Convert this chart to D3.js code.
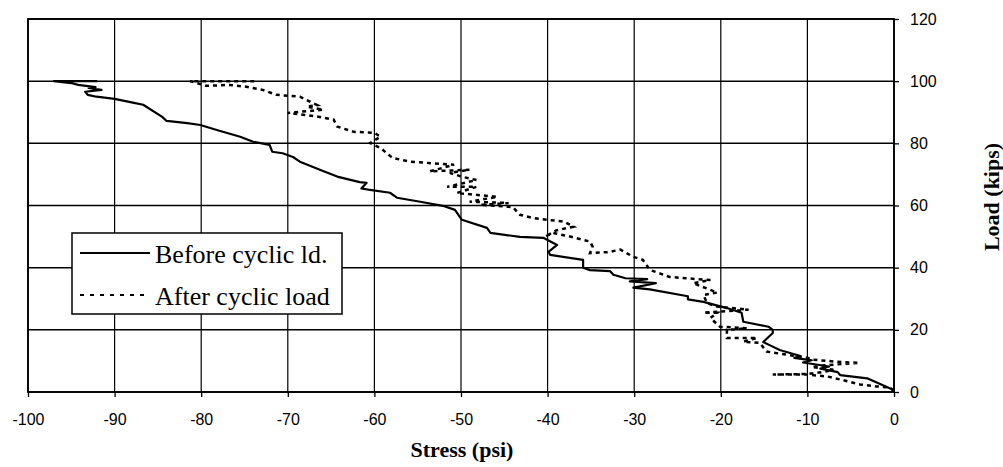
<!DOCTYPE html>
<html>
<head>
<meta charset="utf-8">
<script src="https://cdn.jsdelivr.net/npm/d3@7"></script>
<style>
  body { margin: 0; background: #fff; }
  svg { display: block; }
  .tick text { font-family: "Liberation Sans", Arial, sans-serif; font-size: 16px; fill: #000; }
  .title { font-family: "Liberation Serif", "Times New Roman", serif; font-weight: bold; font-size: 22px; }
  .legend text { font-family: "Liberation Serif", "Times New Roman", serif; font-size: 26px; }
</style>
</head>
<body>
<svg id="chart" width="1003" height="467"></svg>
<script>
// x = stress (psi), y = load (kips)
const xTicks = [-100, -90, -80, -70, -60, -50, -40, -30, -20, -10, 0];
const yTicks = [0, 20, 40, 60, 80, 100, 120];

const seriesNames = ["Before cyclic ld.", "After cyclic load"];

// before cyclic loading (solid)
const beforeStress = [0, -0.3, -3.1, -6.2, -6.5, -8.5, -7.5, -10.5, -9.5, -11.5, -10.8, -13.2, -14.3, -15.1, -14, -14, -14.5,
  -17.4, -17.6, -19.3, -22, -23.8, -23.8, -28.2, -30.1, -27.5, -30.5, -28.5, -31, -32.4, -32.8, -35.1, -35.9, -35.9,
  -39.7, -39.9, -38.9, -40.5, -43.2, -46.6, -47, -49.9, -50.7, -52.1, -54.7, -57.4, -58.2, -60.5, -61.5, -60.9, -61.7,
  -64.3, -66.3, -68.6, -69.4, -70.6, -71.8, -72.1, -74, -75.5, -78.2, -80.1, -81.6, -84, -84.5, -86.7, -87.9, -90,
  -92.1, -93.1, -93.4, -91.5, -93, -92.2, -94.2, -95, -97, -92];
const beforeLoad = [0, 1, 4.4, 5.4, 6.4, 7.5, 8.2, 9.5, 10.2, 11, 11.6, 13.5, 15, 16.1, 19, 20, 21,
  22.6, 25.5, 27, 29, 29.8, 30.8, 33, 33.6, 35, 35.6, 36.3, 36.6, 37.7, 38.9, 39.2, 40, 42.5,
  44.1, 45.1, 47.3, 49.6, 49.9, 51.2, 52.8, 55.4, 58.6, 59.9, 61.2, 62.5, 64.1, 65, 65.5, 67.3, 67.5,
  69.3, 71.5, 74.1, 75.6, 76.8, 77.3, 79.5, 80.5, 82.1, 84.3, 85.9, 86.5, 87.2, 88.5, 92.4, 93.1, 94.3,
  95, 95.6, 96.6, 97.2, 97.8, 98.1, 98.8, 99.4, 100, 100];

// after cyclic loading (dashed)
const afterStress = [0, -0.5, -2, -3.9, -5, -6.2, -7.7, -10, -14, -10, -8, -7, -9.5, -8, -4, -6, -9.4, -10, -12.4,
  -14.7, -15.5, -17.4, -15.8, -19.3, -19.3, -17, -20.1, -21.2, -20.4, -22, -16.8, -20.5, -21.6, -22, -20.4, -23.2,
  -21.2, -25.9, -28.2, -29, -30.1, -31.6, -33, -35.1, -34.8, -35.1, -37.4, -39.4, -40.3, -39, -37, -38.1, -40,
  -41.7, -43.2, -44, -47.8, -44.5, -49, -45.8, -50.5, -48.2, -51.6, -48.2, -49.8, -51.3, -49, -53.6, -50.8,
  -55.9, -57.9, -59.3, -60.5, -59.3, -60, -62.4, -64.3, -64.7, -66.3, -70, -65.9, -67.8, -66.6, -68.6, -71.3,
  -72.9, -74.8, -76.7, -79.4, -81, -81.3, -73.6];
const afterLoad = [0.5, 1.4, 1.8, 2.4, 3.2, 4, 5, 5.6, 5.6, 5.8, 6.5, 7.2, 8, 8.6, 9.4, 9.6, 10.4, 11, 12,
  13, 15.8, 16.2, 17.4, 17.4, 20, 20.5, 21, 23.8, 25.5, 25.5, 26.5, 27.5, 28.6, 31.2, 32, 35,
  36, 37, 39.3, 42.5, 43.5, 45.8, 45, 44.7, 46.7, 48.4, 50, 51.2, 50, 52, 53.2, 54.8, 55.4,
  56, 57, 59.5, 60.2, 60.8, 61.2, 62.8, 64, 66, 66, 68.2, 69.2, 70.5, 71.5, 71, 73.1,
  74.1, 75.3, 78.5, 80.1, 82.1, 83.4, 83.7, 85.4, 87.6, 88.5, 89.8, 90.8, 91.8, 92.3, 95, 95.6,
  97.2, 98.2, 98.8, 98.5, 99.8, 100, 100];

const margin = { left: 28, top: 19, right: 109, bottom: 75 };
const width = 1003 - margin.left - margin.right,
      height = 467 - margin.top - margin.bottom;

const svg = d3.select("#chart");
const g = svg.append("g")
    .attr("transform", "translate(" + margin.left + "," + margin.top + ")");

const x = d3.scaleLinear().domain([-100, 0]).range([0, width]);
const y = d3.scaleLinear().domain([0, 120]).range([height, 0]);

// grid
g.append("g").selectAll("line")
    .data(xTicks)
    .enter().append("line")
    .attr("x1", d => x(d)).attr("x2", d => x(d))
    .attr("y1", 0).attr("y2", height)
    .attr("stroke", "#000").attr("stroke-width", 1.2);

g.append("g").selectAll("line")
    .data(yTicks)
    .enter().append("line")
    .attr("y1", d => y(d)).attr("y2", d => y(d))
    .attr("x1", 0).attr("x2", width)
    .attr("stroke", "#000").attr("stroke-width", 1.5);

// frame
g.append("rect")
    .attr("width", width).attr("height", height)
    .attr("fill", "none").attr("stroke", "#000").attr("stroke-width", 1.8);

// axes (plain hyphen minus, like the original)
const fmt = d => String(d);
const xAxis = g.append("g")
    .attr("transform", "translate(0," + height + ")")
    .call(d3.axisBottom(x).tickValues(xTicks).tickFormat(fmt).tickSize(5).tickPadding(17));
const yAxis = g.append("g")
    .attr("transform", "translate(" + width + ",0)")
    .call(d3.axisRight(y).tickValues(yTicks).tickFormat(fmt).tickSize(5).tickPadding(11));
[xAxis, yAxis].forEach(function (ax) {
    ax.select(".domain").remove();
    ax.selectAll(".tick line").attr("stroke", "#000").attr("stroke-width", 1.3);
});

// curves
const line = d3.line()
    .x(d => x(d[0]))
    .y(d => y(d[1]));

const before = beforeStress.map((s, i) => [s, beforeLoad[i]]);
const after = afterStress.map((s, i) => [s, afterLoad[i]]);

g.append("path")
    .datum(after)
    .attr("d", line)
    .attr("fill", "none")
    .attr("stroke", "#000")
    .attr("stroke-width", 2.5)
    .attr("stroke-dasharray", "4,4");

g.append("path")
    .datum(before)
    .attr("d", line)
    .attr("fill", "none")
    .attr("stroke", "#000")
    .attr("stroke-width", 2.2)
    .attr("stroke-linejoin", "round");

// axis titles
svg.append("text")
    .attr("class", "title")
    .attr("x", margin.left + width / 2 + 1)
    .attr("y", 457)
    .attr("text-anchor", "middle")
    .text("Stress (psi)");

svg.append("text")
    .attr("class", "title")
    .attr("transform", "translate(999," + 197 + ") rotate(-90)")
    .attr("text-anchor", "middle")
    .text("Load (kips)");

// legend
const legend = svg.append("g").attr("class", "legend");
legend.append("rect")
    .attr("x", 72).attr("y", 233)
    .attr("width", 270).attr("height", 81)
    .attr("fill", "#fff").attr("stroke", "#000").attr("stroke-width", 1.5);

seriesNames.forEach(function (name, i) {
    const cy = 253 + i * 42;
    legend.append("line")
        .attr("x1", 80).attr("x2", 150)
        .attr("y1", cy).attr("y2", cy)
        .attr("stroke", "#000")
        .attr("stroke-width", 2.2)
        .attr("stroke-dasharray", i === 1 ? "4,6" : null);
    legend.append("text")
        .attr("x", 155)
        .attr("y", cy + 10)
        .text(name);
});
</script>
</body>
</html>
